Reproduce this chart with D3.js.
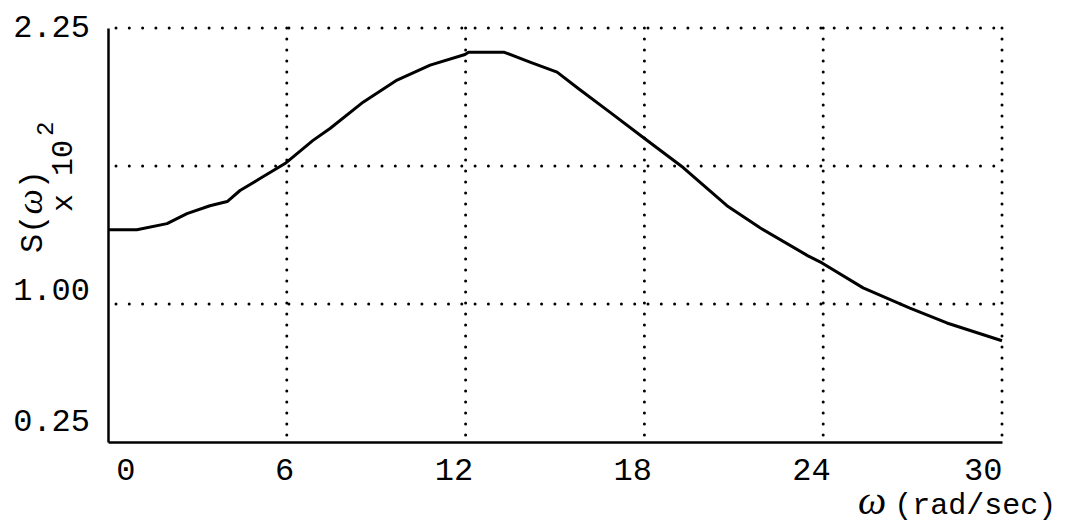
<!DOCTYPE html>
<html>
<head>
<meta charset="utf-8">
<script src="https://cdn.jsdelivr.net/npm/d3@7"></script>
<style>
  body { margin: 0; background: #fff; }
  svg { display: block; }
  text { font-family: "Liberation Mono", "DejaVu Sans Mono", monospace; fill: #000; }
</style>
</head>
<body>
<svg></svg>
<script>
// omega (rad/sec) and S(omega) x 10^2
const omega = [0, 0.97, 1.98, 2.65, 3.42, 4.0, 4.43, 5.10, 5.94, 6.88, 7.45, 8.56, 9.70, 10.81, 11.98, 12.1, 13.3, 14.16, 15.07, 15.77, 16.85, 17.95, 19.30, 20.77, 21.88, 23.49, 23.96, 25.34, 26.91, 28.15, 30.0];
const spectrum = [1.336, 1.336, 1.364, 1.409, 1.445, 1.464, 1.514, 1.568, 1.636, 1.741, 1.795, 1.914, 2.014, 2.082, 2.13, 2.14, 2.14, 2.095, 2.05, 1.977, 1.868, 1.755, 1.618, 1.445, 1.345, 1.218, 1.186, 1.073, 0.978, 0.897, 0.800];

const xTicks = [0, 6, 12, 18, 24, 30];
const yTicks = [0.25, 1.00, 2.25];
const yGrid = [1.00, 1.625, 2.25];

const width = 1065;
const height = 524;
const margin = { top: 28, right: 63, bottom: 82, left: 108 };
const plotW = width - margin.left - margin.right;
const plotH = height - margin.top - margin.bottom;

const svg = d3.select("svg")
  .attr("width", width)
  .attr("height", height);

const g = svg.append("g")
  .attr("transform", "translate(" + margin.left + "," + margin.top + ")");

const xScale = d3.scaleLinear()
  .domain([0, 30])
  .range([0, plotW]);

// the axis is not linear: 0.25 -> 1.00 takes one band, 1.00 -> 2.25 takes two
const yScale = d3.scaleLinear()
  .domain([0.25, 1.00, 2.25])
  .range([plotH, plotH * 2 / 3, 0]);

// dotted grid
g.selectAll(".hgrid")
  .data(yGrid)
  .enter()
  .append("line")
  .attr("class", "hgrid")
  .attr("x1", 0)
  .attr("x2", plotW)
  .attr("y1", d => yScale(d))
  .attr("y2", d => yScale(d))
  .attr("stroke", "#000")
  .attr("stroke-width", 3)
  .attr("stroke-linecap", "round")
  .attr("stroke-dasharray", "0,13.3")
  .attr("stroke-dashoffset", -8);

g.selectAll(".vgrid")
  .data(xTicks.slice(1))
  .enter()
  .append("line")
  .attr("class", "vgrid")
  .attr("x1", d => xScale(d))
  .attr("x2", d => xScale(d))
  .attr("y1", 0)
  .attr("y2", plotH)
  .attr("stroke", "#000")
  .attr("stroke-width", 3)
  .attr("stroke-linecap", "round")
  .attr("stroke-dasharray", "0,11");

// solid left and bottom axes
const xAxis = d3.axisBottom(xScale).tickValues(xTicks).tickSize(0).tickFormat(d3.format("d"));
const yAxis = d3.axisLeft(yScale).tickValues(yTicks).tickSize(0).tickFormat(d3.format(".2f"));

const gx = g.append("g")
  .attr("id", "x-axis")
  .attr("transform", "translate(0," + plotH + ")")
  .call(xAxis);
gx.select(".domain").attr("stroke", "#000").attr("stroke-width", 2.5);
const xDx = { 0: 27, 30: 0 };
gx.selectAll(".tick text")
  .attr("font-size", 32)
  .attr("font-family", "Liberation Mono, monospace")
  .attr("text-anchor", "end")
  .attr("y", 38)
  .attr("dy", 0)
  .attr("dx", d => (d in xDx ? xDx[d] : 7));

const gy = g.append("g")
  .attr("id", "y-axis")
  .call(yAxis);
gy.select(".domain").attr("stroke", "#000").attr("stroke-width", 2.5);
const yDy = { 0.25: -12, 1: -5, 2.25: 8 };
gy.selectAll(".tick text")
  .attr("font-size", 32)
  .attr("font-family", "Liberation Mono, monospace")
  .attr("x", -18)
  .attr("dy", d => yDy[d]);

// spectrum curve
const line = d3.line()
  .x((d, i) => xScale(omega[i]))
  .y(d => yScale(d));

g.append("path")
  .datum(spectrum)
  .attr("d", line)
  .attr("fill", "none")
  .attr("stroke", "#000")
  .attr("stroke-width", 3)
  .attr("stroke-linejoin", "round");

// y label: S(w) x 10^2
const sLabel = svg.append("text")
  .attr("transform", "translate(42,253) rotate(-90)")
  .attr("font-size", 32);
sLabel.append("tspan").text("S(");
sLabel.append("tspan").attr("font-family", "Liberation Serif, serif").attr("font-style", "italic").attr("font-size", 36).text("ω");
sLabel.append("tspan").text(")");

svg.append("text")
  .attr("transform", "translate(72,212) rotate(-90)")
  .attr("font-size", 30)
  .text("x 10");
svg.append("text")
  .attr("transform", "translate(53,136) rotate(-90)")
  .attr("font-size", 24)
  .text("2");

// x label
const xLabel = svg.append("text")
  .attr("x", 858)
  .attr("y", 514)
  .attr("font-size", 30);
xLabel.append("tspan").attr("font-family", "Liberation Serif, serif").attr("font-style", "italic").attr("font-size", 40).text("ω");
xLabel.append("tspan").attr("dx", 8).text("(rad/sec)");
</script>
</body>
</html>
